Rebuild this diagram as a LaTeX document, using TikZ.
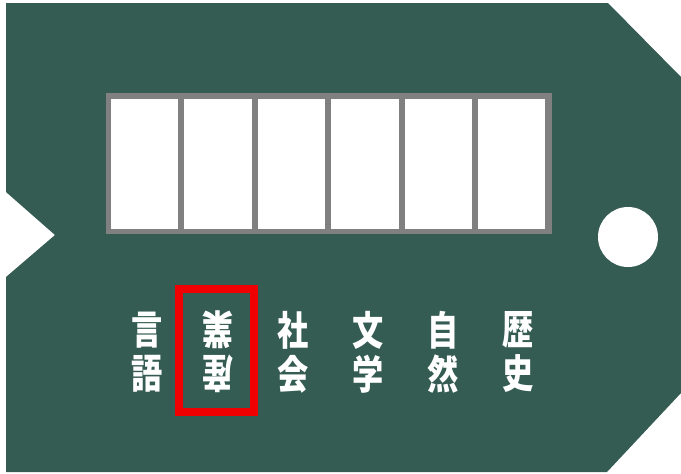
\documentclass[tikz,border=0pt]{standalone}
\usepackage{fontspec}
\newfontfamily\cjk{Noto Sans CJK JP}
\definecolor{tagg}{RGB}{52,92,82}
\definecolor{frameg}{RGB}{128,128,128}
\definecolor{markred}{RGB}{240,0,0}
\begin{document}
\begin{tikzpicture}[x=1pt,y=-1pt,
  lab/.style={text=white,inner sep=0pt,font=\cjk\bfseries\fontsize{40}{40}\selectfont},
  cell/.style={fill=white,draw=none}]
\useasboundingbox (0,0) rectangle (681,474);
% tag body
\fill[tagg] (6,3) -- (608,3) -- (681,77) -- (681,393) -- (607,472) -- (6,472)
  -- (6,277) -- (55,235) -- (6,192) -- cycle;
% hole
\fill[white] (628,237) circle[radius=30];
% frame
\fill[frameg] (106,93) rectangle (552,234);
\foreach \i in {0,...,5} {
  \fill[white] ({111+73.4*\i},98.5) rectangle ({178.3+73.4*\i},229.3);
}
% labels
\node[lab] (a1) at (147.5,330) {\scalebox{0.78}[1]{言}};
\node[lab] (a2) at (147.5,374) {\scalebox{0.78}[1]{語}};
\node[lab,rotate=180] (b1) at (218,330) {\scalebox{0.78}[1]{業}};
\node[lab,rotate=180] (b2) at (218,374) {\scalebox{0.78}[1]{産}};
\node[lab] (c1) at (293,330) {\scalebox{0.78}[1]{社}};
\node[lab] (c2) at (293,374) {\scalebox{0.78}[1]{会}};
\node[lab] (d1) at (368,330) {\scalebox{0.78}[1]{文}};
\node[lab] (d2) at (368,374) {\scalebox{0.78}[1]{学}};
\node[lab] (e1) at (443,330) {\scalebox{0.78}[1]{自}};
\node[lab] (e2) at (443,374) {\scalebox{0.78}[1]{然}};
\node[lab] (f1) at (518,330) {\scalebox{0.78}[1]{歴}};
\node[lab] (f2) at (518,374) {\scalebox{0.78}[1]{史}};
% red mark
\draw[markred,line width=7.5] (179,289) rectangle (254,412);
\end{tikzpicture}
\end{document}
